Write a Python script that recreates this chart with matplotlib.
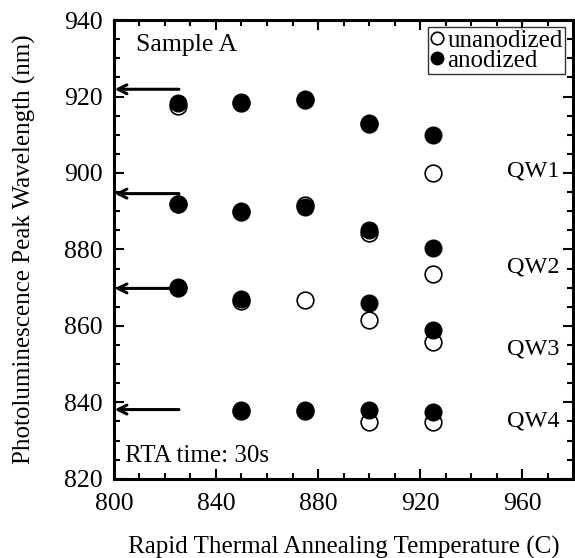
import numpy as np
import matplotlib
matplotlib.use('Agg')
import matplotlib.pyplot as plt
from matplotlib.ticker import MultipleLocator

plt.rcParams['font.family'] = ['Liberation Serif', 'DejaVu Serif']

temps = [825, 850, 875, 900, 925]

# anodized (filled) / unanodized (open), nan = not measured
anod = {
    'QW1': [918.4, 918.7, 919.3, 913.1, 910.0],
    'QW2': [892.0, 890.0, 891.0, 885.2, 880.5],
    'QW3': [870.3, 867.0, np.nan, 866.1, 858.9],
    'QW4': [np.nan, 837.9, 837.9, 838.1, 837.4],
}
unanod = {
    'QW1': [917.6, 918.3, 919.0, 912.8, 900.0],
    'QW2': [891.8, 889.8, 891.6, 884.2, 873.5],
    'QW3': [870.0, 866.5, 866.8, 861.6, 855.7],
    'QW4': [np.nan, 837.7, 837.7, 834.8, 834.8],
}

# as-grown wavelengths (arrows)
as_grown = [921.9, 894.6, 869.8, 838.1]
qw_names = ['QW1', 'QW2', 'QW3', 'QW4']
qw_label_y = [900.4, 875.3, 854.0, 835.0]


def main():
    fig = plt.figure(figsize=(5.75, 5.58), dpi=100)
    ax = fig.add_axes([0.198, 0.142, 0.799, 0.822])

    first = True
    for qw in qw_names:
        ax.plot(temps, unanod[qw], 'o', ms=12, mfc='white', mec='black', mew=1.2,
                ls='none', label='unanodized' if first else None)
        ax.plot(temps, anod[qw], 'o', ms=12, mfc='black', mec='black',
                ls='none', label='anodized' if first else None)
        first = False

    for y in as_grown:
        ax.annotate('', xy=(800.3, y), xytext=(825.5, y),
                    arrowprops=dict(arrowstyle='->', lw=2.2, color='black',
                                    mutation_scale=16, shrinkA=0, shrinkB=0))

    for name, y in zip(qw_names, qw_label_y):
        ax.text(974.5, y, name, ha='right', va='center', fontsize=17.5)

    ax.text(808.5, 933.5, 'Sample A', ha='left', va='center', fontsize=18.5)
    ax.text(804.3, 826.0, 'RTA time: 30s', ha='left', va='center', fontsize=18)

    ax.set_xlim(800, 980)
    ax.set_ylim(820, 940)
    ax.xaxis.set_major_locator(MultipleLocator(40))
    ax.xaxis.set_minor_locator(MultipleLocator(10))
    ax.yaxis.set_major_locator(MultipleLocator(20))
    ax.yaxis.set_minor_locator(MultipleLocator(5))
    ax.tick_params(which='both', direction='in', top=True, right=True,
                   width=1.5, labelsize=18.5)
    ax.tick_params(axis='x', pad=10)
    ax.tick_params(axis='y', pad=8)
    ax.tick_params(which='major', length=7)
    ax.tick_params(which='minor', length=4)
    for s in ax.spines.values():
        s.set_linewidth(2.2)

    ax.set_xlabel('Rapid Thermal Annealing Temperature (C)', fontsize=18, labelpad=15)
    ax.set_ylabel('Photoluminescence Peak Wavelength (nm)', fontsize=18, labelpad=20)

    leg = ax.legend(loc='upper right', bbox_to_anchor=(0.983, 0.985), fontsize=18,
                    frameon=True, fancybox=False, markerscale=0.75,
                    handlelength=0.55, handletextpad=0.15, borderpad=0.1,
                    labelspacing=-0.1, borderaxespad=0.0)
    leg.get_frame().set_edgecolor('black')
    leg.get_frame().set_linewidth(1.0)

    fig.savefig('out.png', dpi=100)


if __name__ == '__main__':
    main()
